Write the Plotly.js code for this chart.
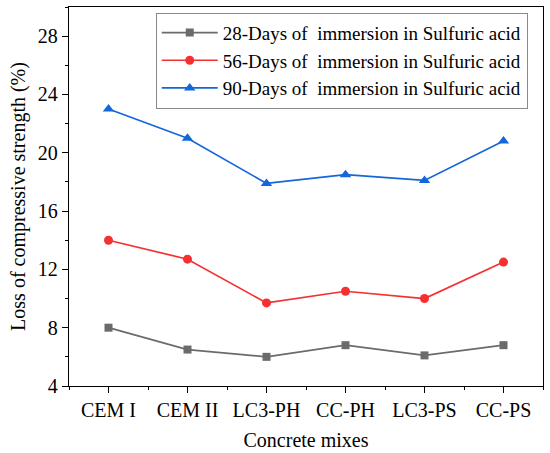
<!DOCTYPE html>
<html>
<head>
<meta charset="utf-8">
<script src="https://cdn.plot.ly/plotly-3.0.1.min.js"></script>
<style>html,body{margin:0;padding:0;background:#fff;}#chart{width:550px;height:453px;}</style>
</head>
<body>
<div id="chart"></div>
<script>
const categories = ["CEM I", "CEM II", "LC3-PH", "CC-PH", "LC3-PS", "CC-PS"];
const seriesNames = [
  "28-Days of\u00a0 immersion in Sulfuric acid",
  "56-Days of\u00a0 immersion in Sulfuric acid",
  "90-Days of\u00a0 immersion in Sulfuric acid"
];
const days28 = [8.0, 6.5, 6.0, 6.8, 6.1, 6.8];
const days56 = [14.0, 12.7, 9.7, 10.5, 10.0, 12.5];
const days90 = [23.0, 21.0, 17.9, 18.5, 18.1, 20.8];
const yTickVals = [4, 8, 12, 16, 20, 24, 28];

const idx = categories.map((c, i) => i);
const FONT = "Liberation Serif, Times New Roman, serif";

function mk(name, y, color, symbol, size) {
  return {
    type: "scatter", mode: "lines+markers", name: name,
    x: idx, y: y,
    line: {color: color, width: 1.7},
    marker: {color: color, symbol: symbol, size: size}
  };
}

const data = [
  mk(seriesNames[0], days28, "#6b6b6b", "square", 8),
  mk(seriesNames[1], days56, "#f53030", "circle", 9),
  mk(seriesNames[2], days90, "#1467db", "triangle-up", 10)
];

const layout = {
  width: 550, height: 453,
  margin: {l: 69, r: 7, t: 7, b: 67},
  paper_bgcolor: "#fff", plot_bgcolor: "#fff",
  font: {family: FONT, size: 20, color: "#000"},
  showlegend: true,
  legend: {
    x: 0.183, y: 0.985, xanchor: "left", yanchor: "top",
    bordercolor: "#8a8a8a", borderwidth: 1, bgcolor: "#fff",
    font: {family: FONT, size: 19, color: "#000"},
    itemwidth: 56, tracegroupgap: 0
  },
  xaxis: {
    type: "linear", range: [-0.5, 5.5],
    tickmode: "array", tickvals: idx, ticktext: categories,
    ticks: "outside", ticklen: 6, tickwidth: 1, tickcolor: "#000",
    minor: {tickmode: "linear", tick0: -0.5, dtick: 1, ticks: "outside", ticklen: 3, tickcolor: "#000", showgrid: false},
    showline: true, linecolor: "#000", linewidth: 1.2, mirror: true,
    showgrid: false, zeroline: false,
    tickfont: {family: FONT, size: 20},
    title: {text: "Concrete mixes", font: {family: FONT, size: 20}, standoff: 12}
  },
  yaxis: {
    range: [4, 30],
    tickmode: "array", tickvals: yTickVals,
    ticks: "outside", ticklen: 6, tickwidth: 1, tickcolor: "#000",
    minor: {tickmode: "linear", tick0: 2, dtick: 4, ticks: "outside", ticklen: 3, tickcolor: "#000", showgrid: false},
    showline: true, linecolor: "#000", linewidth: 1.2, mirror: true,
    showgrid: false, zeroline: false,
    tickfont: {family: FONT, size: 20},
    title: {text: "Loss of compressive strength (%)", font: {family: FONT, size: 20}, standoff: 6}
  }
};

Plotly.newPlot("chart", data, layout, {displayModeBar: false, staticPlot: true});
</script>
</body>
</html>
